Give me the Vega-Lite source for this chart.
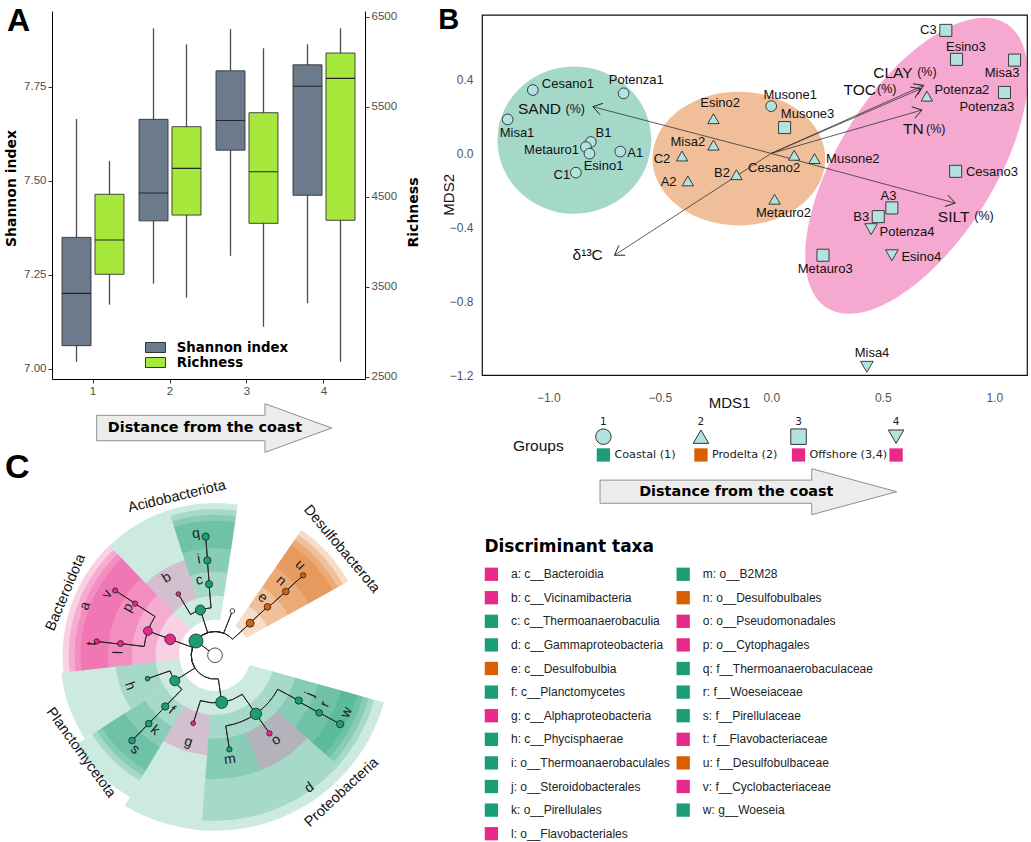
{
"$schema": "https://vega.github.io/schema/vega-lite/v6.json",
"background": "white",
"padding": {"left": 4, "top": 5, "right": 0, "bottom": 0},
"config": {"view": {"stroke": null}, "font": "Liberation Sans", "axis": {"grid": false, "labelFont": "Liberation Sans", "titleFont": "Liberation Sans"}, "legend": {"labelFont": "Liberation Sans", "titleFont": "Liberation Sans"}},
"datasets": {
"shannon": [
{"site":"1","series":"Shannon index","lower":7.019,"q1":7.062,"median":7.201,"q3":7.350,"upper":7.665},
{"site":"2","series":"Shannon index","lower":7.227,"q1":7.394,"median":7.468,"q3":7.664,"upper":7.906},
{"site":"3","series":"Shannon index","lower":7.301,"q1":7.582,"median":7.661,"q3":7.793,"upper":7.904},
{"site":"4","series":"Shannon index","lower":7.175,"q1":7.462,"median":7.752,"q3":7.809,"upper":7.864}
],
"richness": [
{"site":"1","series":"Richness","lower":3300,"q1":3638,"median":4019,"q3":4527,"upper":4897},
{"site":"2","series":"Richness","lower":3378,"q1":4296,"median":4815,"q3":5278,"upper":6193},
{"site":"3","series":"Richness","lower":3056,"q1":4204,"median":4778,"q3":5433,"upper":6149},
{"site":"4","series":"Richness","lower":2667,"q1":4238,"median":5815,"q3":6096,"upper":6371}
],
"samples": [
{"name":"Cesano1","group":"1","x":-1.069,"y":0.343,"lx":-0.912,"ly":0.374},
{"name":"Potenza1","group":"1","x":-0.662,"y":0.325,"lx":-0.605,"ly":0.397},
{"name":"Misa1","group":"1","x":-1.182,"y":0.184,"lx":-1.140,"ly":0.109},
{"name":"B1","group":"1","x":-0.809,"y":0.062,"lx":-0.752,"ly":0.112},
{"name":"Metauro1","group":"1","x":-0.831,"y":0.035,"lx":-0.985,"ly":0.017},
{"name":"Esino1","group":"1","x":-0.815,"y":-0.001,"lx":-0.752,"ly":-0.068},
{"name":"A1","group":"1","x":-0.677,"y":0.010,"lx":-0.610,"ly":0.004},
{"name":"C1","group":"1","x":-0.876,"y":-0.104,"lx":-0.939,"ly":-0.117},
{"name":"Musone1","group":"1","x":0.000,"y":0.256,"lx":0.085,"ly":0.316},
{"name":"Esino2","group":"2","x":-0.259,"y":0.188,"lx":-0.229,"ly":0.271},
{"name":"Misa2","group":"2","x":-0.259,"y":0.045,"lx":-0.374,"ly":0.062},
{"name":"C2","group":"2","x":-0.400,"y":-0.014,"lx":-0.490,"ly":-0.032},
{"name":"A2","group":"2","x":-0.374,"y":-0.149,"lx":-0.460,"ly":-0.153},
{"name":"B2","group":"2","x":-0.156,"y":-0.115,"lx":-0.221,"ly":-0.104},
{"name":"Cesano2","group":"2","x":0.103,"y":-0.010,"lx":0.013,"ly":-0.081},
{"name":"Musone2","group":"2","x":0.194,"y":-0.028,"lx":0.366,"ly":-0.028},
{"name":"Metauro2","group":"2","x":0.015,"y":-0.248,"lx":0.055,"ly":-0.320},
{"name":"Potenza2","group":"2","x":0.698,"y":0.310,"lx":0.855,"ly":0.341},
{"name":"C3","group":"3","x":0.783,"y":0.666,"lx":0.705,"ly":0.666},
{"name":"Esino3","group":"3","x":0.831,"y":0.509,"lx":0.873,"ly":0.575},
{"name":"Misa3","group":"3","x":1.091,"y":0.505,"lx":1.035,"ly":0.433},
{"name":"Potenza3","group":"3","x":1.046,"y":0.330,"lx":0.967,"ly":0.253},
{"name":"Musone3","group":"3","x":0.060,"y":0.140,"lx":0.163,"ly":0.211},
{"name":"Cesano3","group":"3","x":0.827,"y":-0.097,"lx":0.990,"ly":-0.100},
{"name":"A3","group":"3","x":0.541,"y":-0.295,"lx":0.526,"ly":-0.230},
{"name":"B3","group":"3","x":0.480,"y":-0.342,"lx":0.404,"ly":-0.342},
{"name":"Metauro3","group":"3","x":0.232,"y":-0.551,"lx":0.242,"ly":-0.623},
{"name":"Potenza4","group":"4","x":0.448,"y":-0.410,"lx":0.609,"ly":-0.425},
{"name":"Esino4","group":"4","x":0.541,"y":-0.551,"lx":0.673,"ly":-0.558},
{"name":"Misa4","group":"4","x":0.429,"y":-1.155,"lx":0.452,"ly":-1.081}
],
"env": [
{"var":"SAND","ox":0,"oy":0,"ex":-0.800,"ey":0.253},
{"var":"SILT","ox":0,"oy":0,"ex":0.825,"ey":-0.269},
{"var":"d13C","ox":0,"oy":0,"ex":-0.703,"ey":-0.551},
{"var":"CLAY","ox":0,"oy":0,"ex":0.683,"ey":0.368},
{"var":"TOC","ox":0,"oy":0,"ex":0.671,"ey":0.350},
{"var":"TN","ox":0,"oy":0,"ex":0.676,"ey":0.235}
],
"envlab": [
{"t":"SAND","lx":-1.039,"ly":0.238},
{"t":"CLAY","lx":0.546,"ly":0.437},
{"t":"TOC","lx":0.397,"ly":0.341},
{"t":"TN","lx":0.637,"ly":0.134},
{"t":"SILT","lx":0.818,"ly":-0.342},
{"t":"δ¹³C","lx":-0.823,"ly":-0.551}
],
"envpct": [
{"t":"(%)","lx":-0.879,"ly":0.238},
{"t":"(%)","lx":0.698,"ly":0.440},
{"t":"(%)","lx":0.518,"ly":0.347},
{"t":"(%)","lx":0.738,"ly":0.134},
{"t":"(%)","lx":0.954,"ly":-0.339}
],
"groups": [
{"grp":1,"gs":"1","habitat":"Coastal","label":"Coastal (1)"},
{"grp":2,"gs":"2","habitat":"Prodelta","label":"Prodelta (2)"},
{"grp":3,"gs":"3","habitat":"Offshore","label":"Offshore (3,4)"},
{"grp":4,"gs":"4","habitat":"Offshore","label":""}
],
"wedges": [
{"clade":"Bacteroidota","grp":"Offshore","t0":263.5,"t1":316.1,"r0":1.5,"r1":6.4},
{"clade":"a","grp":"Offshore","t0":263.5,"t1":316.1,"r0":2.5,"r1":6.15},
{"clade":"p","grp":"Offshore","t0":289.8,"t1":316.1,"r0":3.5,"r1":5.9},
{"clade":"v","grp":"Offshore","t0":289.8,"t1":316.1,"r0":4.5,"r1":5.65},
{"clade":"l","grp":"Offshore","t0":263.5,"t1":289.8,"r0":3.5,"r1":5.9},
{"clade":"t","grp":"Offshore","t0":263.5,"t1":289.8,"r0":4.5,"r1":5.65},
{"clade":"Acidobacteriota","grp":"Coastal","t0":316.1,"t1":368.6,"r0":1.5,"r1":6.4},
{"clade":"b","grp":"Offshore","t0":316.1,"t1":342.3,"r0":2.5,"r1":4.2},
{"clade":"c","grp":"Coastal","t0":342.3,"t1":368.6,"r0":2.5,"r1":6.15},
{"clade":"i","grp":"Coastal","t0":342.3,"t1":368.6,"r0":3.5,"r1":5.9},
{"clade":"q","grp":"Coastal","t0":342.3,"t1":368.6,"r0":4.5,"r1":5.65},
{"clade":"Desulfobacterota","grp":"Prodelta","t0":34.6,"t1":61.0,"r0":1.5,"r1":6.4},
{"clade":"e","grp":"Prodelta","t0":34.6,"t1":61.0,"r0":2.5,"r1":6.15},
{"clade":"n","grp":"Prodelta","t0":34.6,"t1":61.0,"r0":3.5,"r1":5.9},
{"clade":"u","grp":"Prodelta","t0":34.6,"t1":61.0,"r0":4.5,"r1":5.65},
{"clade":"Proteobacteria","grp":"Coastal","t0":105.6,"t1":211.0,"r0":1.5,"r1":7.37},
{"clade":"d","grp":"Coastal","t0":105.6,"t1":184.5,"r0":2.5,"r1":6.95},
{"clade":"g","grp":"Offshore","t0":184.5,"t1":211.0,"r0":2.5,"r1":4.2},
{"clade":"m","grp":"Coastal","t0":158.2,"t1":184.5,"r0":3.5,"r1":5.2},
{"clade":"o","grp":"Offshore","t0":131.9,"t1":158.2,"r0":3.5,"r1":5.2},
{"clade":"j","grp":"Coastal","t0":105.6,"t1":131.9,"r0":3.5,"r1":6.7},
{"clade":"r","grp":"Coastal","t0":105.6,"t1":131.9,"r0":4.5,"r1":6.45},
{"clade":"w","grp":"Coastal","t0":105.6,"t1":131.9,"r0":5.5,"r1":6.2},
{"clade":"Planctomycetota","grp":"Coastal","t0":211.0,"t1":237.3,"r0":1.5,"r1":6.95},
{"clade":"Planctomycetota","grp":"Coastal","t0":237.3,"t1":263.5,"r0":1.5,"r1":6.5},
{"clade":"f","grp":"Coastal","t0":211.0,"t1":237.3,"r0":2.5,"r1":6.15},
{"clade":"k","grp":"Coastal","t0":211.0,"t1":237.3,"r0":3.5,"r1":5.9},
{"clade":"s","grp":"Coastal","t0":211.0,"t1":237.3,"r0":4.5,"r1":5.65},
{"clade":"h","grp":"Coastal","t0":237.3,"t1":263.5,"r0":2.5,"r1":4.2}
],
"edges": [
{"tp":307,"tc":307,"rp":0,"rc":1},
{"tp":307,"tc":289.6,"rp":1,"rc":2},
{"tp":307,"tc":342.1,"rp":1,"rc":2},
{"tp":307,"tc":381.4,"rp":1,"rc":2},
{"tp":307,"tc":407.6,"rp":1,"rc":2},
{"tp":307,"tc":171.9,"rp":1,"rc":2},
{"tp":307,"tc":237.6,"rp":1,"rc":2},
{"tp":289.6,"tc":289.9,"rp":2,"rc":3},
{"tp":289.9,"tc":302.9,"rp":3,"rc":4},
{"tp":289.9,"tc":277.1,"rp":3,"rc":4},
{"tp":302.9,"tc":303.0,"rp":4,"rc":5},
{"tp":277.1,"tc":276.7,"rp":4,"rc":5},
{"tp":342.1,"tc":329.1,"rp":2,"rc":3},
{"tp":342.1,"tc":355.2,"rp":2,"rc":3},
{"tp":355.2,"tc":355.4,"rp":3,"rc":4},
{"tp":355.4,"tc":355.5,"rp":4,"rc":5},
{"tp":47.6,"tc":47.3,"rp":2,"rc":3},
{"tp":47.3,"tc":48.0,"rp":3,"rc":4},
{"tp":48.0,"tc":47.8,"rp":4,"rc":5},
{"tp":171.9,"tc":197.8,"rp":2,"rc":3},
{"tp":171.9,"tc":145.1,"rp":2,"rc":3},
{"tp":145.1,"tc":171.3,"rp":3,"rc":4},
{"tp":145.1,"tc":145.1,"rp":3,"rc":4},
{"tp":145.1,"tc":118.4,"rp":3,"rc":4},
{"tp":118.4,"tc":118.9,"rp":4,"rc":5},
{"tp":118.9,"tc":118.8,"rp":5,"rc":6},
{"tp":237.6,"tc":250.9,"rp":2,"rc":3},
{"tp":237.6,"tc":224.2,"rp":2,"rc":3},
{"tp":224.2,"tc":224.1,"rp":3,"rc":4},
{"tp":224.1,"tc":224.2,"rp":4,"rc":5}
],
"nodes": [
{"node":"root","grp":"none","x":0,"y":0,"abundance":1.0},
{"node":"Bacteria","grp":"Coastal","x":-0.799,"y":0.602,"abundance":0.907},
{"node":"Bacteroidota","grp":"Offshore","x":-1.884,"y":0.671,"abundance":0.528},
{"node":"Acidobacteriota","grp":"Coastal","x":-0.615,"y":1.903,"abundance":0.463},
{"node":"unassigned","grp":"none","x":0.730,"y":1.862,"abundance":0.102},
{"node":"Desulfobacterota","grp":"Prodelta","x":1.477,"y":1.349,"abundance":0.296},
{"node":"Proteobacteria","grp":"Coastal","x":0.282,"y":-1.980,"abundance":0.667},
{"node":"Planctomycetota","grp":"Coastal","x":-1.689,"y":-1.072,"abundance":0.463}
],
"taxa": [
{"letter":"a","taxon":"a: c__Bacteroidia","grp":"Offshore","x":-2.821,"y":1.021,"abundance":0.352,"lt":290.8,"lr":5.84},
{"letter":"b","taxon":"b: c__Vicinamibacteria","grp":"Offshore","x":-1.541,"y":2.574,"abundance":0.102,"lt":328.1,"lr":3.84},
{"letter":"c","taxon":"c: c__Thermoanaerobaculia","grp":"Coastal","x":-0.251,"y":2.990,"abundance":0.245,"lt":348.2,"lr":3.22},
{"letter":"d","taxon":"d: c__Gammaproteobacteria","grp":"Coastal","x":1.716,"y":-2.461,"abundance":0.593,"lt":144.5,"lr":6.83},
{"letter":"e","taxon":"e: c__Desulfobulbia","grp":"Prodelta","x":2.205,"y":2.035,"abundance":0.208,"lt":39.6,"lr":3.14},
{"letter":"f","taxon":"f: c__Planctomycetes","grp":"Coastal","x":-2.092,"y":-2.151,"abundance":0.245,"lt":218.2,"lr":2.94},
{"letter":"g","taxon":"g: c__Alphaproteobacteria","grp":"Offshore","x":-0.917,"y":-2.856,"abundance":0.102,"lt":197.1,"lr":3.81},
{"letter":"h","taxon":"h: c__Phycisphaerae","grp":"Coastal","x":-2.835,"y":-0.982,"abundance":0.102,"lt":250.2,"lr":3.8},
{"letter":"i","taxon":"i: o__Thermoanaerobaculales","grp":"Coastal","x":-0.321,"y":3.987,"abundance":0.245,"lt":350.5,"lr":4.08},
{"letter":"j","taxon":"j: o__Steroidobacterales","grp":"Coastal","x":3.518,"y":-1.902,"abundance":0.245,"lt":112.3,"lr":4.31},
{"letter":"k","taxon":"k: o__Pirellulales","grp":"Coastal","x":-2.784,"y":-2.873,"abundance":0.208,"lt":218.7,"lr":4.04},
{"letter":"l","taxon":"l: o__Flavobacteriales","grp":"Offshore","x":-3.969,"y":0.494,"abundance":0.167,"lt":271.6,"lr":4.06},
{"letter":"m","taxon":"m: o__B2M28","grp":"Coastal","x":0.605,"y":-3.954,"abundance":0.13,"lt":171.8,"lr":4.42},
{"letter":"n","taxon":"n: o__Desulfobulbales","grp":"Prodelta","x":2.973,"y":2.677,"abundance":0.208,"lt":41.6,"lr":4.18},
{"letter":"o","taxon":"o: o__Pseudomonadales","grp":"Offshore","x":2.288,"y":-3.281,"abundance":0.13,"lt":144.3,"lr":4.4},
{"letter":"p","taxon":"p: o__Cytophagales","grp":"Offshore","x":-3.358,"y":2.173,"abundance":0.13,"lt":298.8,"lr":4.16},
{"letter":"q","taxon":"q: f__Thermoanaerobaculaceae","grp":"Coastal","x":-0.392,"y":4.985,"abundance":0.245,"lt":351.1,"lr":5.17},
{"letter":"r","taxon":"r: f__Woeseiaceae","grp":"Coastal","x":4.378,"y":-2.417,"abundance":0.208,"lt":114.0,"lr":5.06},
{"letter":"s","taxon":"s: f__Pirellulaceae","grp":"Coastal","x":-3.486,"y":-3.585,"abundance":0.208,"lt":220.4,"lr":5.19},
{"letter":"t","taxon":"t: f__Flavobacteriaceae","grp":"Offshore","x":-4.966,"y":0.583,"abundance":0.13,"lt":275.4,"lr":5.2},
{"letter":"u","taxon":"u: f__Desulfobulbaceae","grp":"Prodelta","x":3.704,"y":3.359,"abundance":0.13,"lt":43.3,"lr":5.21},
{"letter":"v","taxon":"v: f__Cyclobacteriaceae","grp":"Offshore","x":-4.193,"y":2.723,"abundance":0.13,"lt":299.5,"lr":5.2},
{"letter":"w","taxon":"w: g__Woeseia","grp":"Coastal","x":5.258,"y":-2.891,"abundance":0.245,"lt":113.5,"lr":6.03}
],
"phyla": [
{"name":"Acidobacteriota","lt":346.5,"lr":6.85},
{"name":"Desulfobacterota","lt":50.0,"lr":6.94},
{"name":"Bacteroidota","lt":292.8,"lr":6.8},
{"name":"Planctomycetota","lt":234.0,"lr":6.97},
{"name":"Proteobacteria","lt":137.3,"lr":7.85}
]
},
"columns": 2,
"spacing": {"row": 113.3, "column": 104},
"bounds": "flush",
"center": {"row": true, "column": false},
"resolve": {"scale": {"color": "independent", "fill": "independent", "shape": "independent", "size": "independent", "angle": "independent", "theta": "independent", "radius": "independent", "xOffset": "independent"}},
"concat": [
{
"width": 313, "height": 368,
"layer": [
{"data": {"name": "shannon"}, "mark": {"type": "rule", "color": "#4d4d4d", "strokeWidth": 1.3},
"encoding": {
"x": {"field": "site", "type": "ordinal", "scale": {"paddingInner": 0.195, "paddingOuter": 0.13}, "axis": {"title": null, "labelAngle": 0, "labelColor": "#4d4d4d", "labelFontSize": 11.5, "tickColor": "#333", "tickSize": 4, "domainColor": "#000", "labelPadding": 2}},
"xOffset": {"field": "series", "type": "nominal", "scale": {"domain": ["Shannon index", "Richness"], "paddingInner": 0.121}},
"y": {"field": "lower", "type": "quantitative", "title": "Shannon index", "scale": {"domain": [6.9734, 7.9521], "zero": false, "nice": false},
"axis": {"orient": "left", "values": [7, 7.25, 7.5, 7.75], "format": ".2f", "title": "Shannon index", "titleFont": "DejaVu Sans", "titleFontSize": 14, "titleFontWeight": "bold", "titleColor": "#000", "titleX": -41, "titleY": 177, "titleBaseline": "middle", "titleAlign": "center", "titleAngle": 270, "labelColor": "#4d4d4d", "labelFontSize": 11.5, "tickColor": "#333", "tickSize": 4, "domainColor": "#000", "labelPadding": 2, "labelFlush": false}},
"y2": {"field": "upper"}}},
{"data": {"name": "shannon"}, "mark": {"type": "bar", "stroke": "#333", "strokeWidth": 0.9, "opacity": 1},
"encoding": {
"x": {"field": "site", "type": "ordinal"},
"xOffset": {"field": "series", "type": "nominal"},
"y": {"field": "q1", "type": "quantitative", "scale": {"domain": [6.9734, 7.9521], "zero": false, "nice": false}, "axis": null}, "y2": {"field": "q3"},
"color": {"field": "series", "type": "nominal", "scale": {"domain": ["Shannon index", "Richness"], "range": ["#6c7b8b", "#a6e83c"]},
"legend": {"orient": "none", "legendX": 96, "legendY": 329, "title": null, "direction": "vertical", "symbolType": "M-1.43,-0.714L1.43,-0.714L1.43,0.714L-1.43,0.714Z", "symbolSize": 196, "symbolStrokeColor": "#333", "symbolStrokeWidth": 1, "symbolOpacity": 1, "labelFont": "DejaVu Sans", "labelFontWeight": "bold", "labelFontSize": 13.3, "labelColor": "#000", "labelOffset": 13.7, "rowPadding": 0, "padding": 0}}}},
{"data": {"name": "shannon"}, "mark": {"type": "bar", "fill": "transparent", "stroke": "#262626", "strokeWidth": 1.1, "opacity": 1},
"encoding": {
"x": {"field": "site", "type": "ordinal"},
"xOffset": {"field": "series", "type": "nominal"},
"y": {"field": "median", "type": "quantitative", "scale": {"domain": [6.9734, 7.9521], "zero": false, "nice": false}, "axis": null}, "y2": {"field": "median"}}},
{"data": {"name": "richness"}, "mark": {"type": "rule", "color": "#4d4d4d", "strokeWidth": 1.3},
"encoding": {
"x": {"field": "site", "type": "ordinal"},
"xOffset": {"field": "series", "type": "nominal"},
"y": {"field": "lower", "type": "quantitative", "title": "Richness", "scale": {"domain": [2474.4, 6563.3], "zero": false, "nice": false},
"axis": {"orient": "right", "values": [2500, 3500, 4500, 5500, 6500], "format": "d", "title": "Richness", "titleFont": "DejaVu Sans", "titleFontSize": 14, "titleFontWeight": "bold", "titleColor": "#000", "titleX": 48, "titleY": 201, "titleBaseline": "middle", "titleAlign": "center", "titleAngle": 270, "labelColor": "#4d4d4d", "labelFontSize": 11.5, "tickColor": "#333", "tickSize": 4, "domainColor": "#000", "labelPadding": 2, "labelFlush": false}},
"y2": {"field": "upper"}}},
{"data": {"name": "richness"}, "mark": {"type": "bar", "stroke": "#333", "strokeWidth": 0.9, "opacity": 1},
"encoding": {
"x": {"field": "site", "type": "ordinal"},
"xOffset": {"field": "series", "type": "nominal"},
"y": {"field": "q1", "type": "quantitative", "scale": {"domain": [2474.4, 6563.3], "zero": false, "nice": false}, "axis": null}, "y2": {"field": "q3"},
"color": {"field": "series", "type": "nominal"}}},
{"data": {"name": "richness"}, "mark": {"type": "bar", "fill": "transparent", "stroke": "#262626", "strokeWidth": 1.1, "opacity": 1},
"encoding": {
"x": {"field": "site", "type": "ordinal"},
"xOffset": {"field": "series", "type": "nominal"},
"y": {"field": "median", "type": "quantitative", "scale": {"domain": [2474.4, 6563.3], "zero": false, "nice": false}, "axis": null}, "y2": {"field": "median"}}},
{"data": {"values": [{}]},
"mark": {"type": "point", "shape": "M-1,-0.108L0.432,-0.108L0.432,-0.207L1,0L0.432,0.207L0.432,0.108L-1,0.108Z", "size": 55225, "filled": true, "fill": "#ececec", "stroke": "#8f8f8f", "strokeWidth": 1, "opacity": 1, "xOffset": 5.7},
"encoding": {"y": {"datum": 6.843, "type": "quantitative", "scale": {"domain": [6.9734, 7.9521], "zero": false, "nice": false}, "axis": null}}},
{"data": {"values": [{}]},
"mark": {"type": "text", "text": "Distance from the coast", "font": "DejaVu Sans", "fontWeight": "bold", "fontSize": 14.4, "color": "#000", "xOffset": -3.5},
"encoding": {"y": {"datum": 6.843, "type": "quantitative", "scale": {"domain": [6.9734, 7.9521], "zero": false, "nice": false}, "axis": null}}},
{"data": {"values": [{}]},
"mark": {"type": "text", "text": "A", "font": "Liberation Sans", "fontWeight": "bold", "fontSize": 32, "color": "#000", "align": "left", "baseline": "alphabetic", "dx": -86},
"encoding": {"x": {"datum": "1", "type": "ordinal"}, "y": {"datum": 7.8989, "type": "quantitative", "scale": {"domain": [6.9734, 7.9521], "zero": false, "nice": false}, "axis": null}}}
],
"resolve": {"scale": {"y": "independent"}}
},
{
"width": 545, "height": 360.3,
"view": {"stroke": "#111", "strokeWidth": 1.2},
"layer": [
{"data": {"values": [{"habitat": "Coastal", "cx": -0.883, "cy": 0.072}]},
"mark": {"type": "point", "shape": "M1,0C1,0.529 0.552,0.958 0,0.958C-0.552,0.958 -1,0.529 -1,0C-1,-0.529 -0.552,-0.958 0,-0.958C0.552,-0.958 1,-0.529 1,0Z", "size": 23650, "filled": true, "fillOpacity": 0.4, "strokeWidth": 0, "opacity": 1},
"encoding": {"x": {"field": "cx", "type": "quantitative", "scale": {"domain": [-1.297, 1.147], "nice": false, "zero": false}, "axis": null}, "y": {"field": "cy", "type": "quantitative", "scale": {"domain": [-1.2, 0.75], "nice": false, "zero": false}, "axis": null},
"fill": {"field": "habitat", "type": "nominal", "scale": {"domain": ["Coastal", "Prodelta", "Offshore"], "range": ["#1b9e77", "#d95f02", "#e7298a"]}, "legend": null}}},
{"data": {"values": [{"habitat": "Prodelta", "cx": -0.145, "cy": -0.028}]},
"mark": {"type": "point", "shape": "M1,0C1,0.4275 0.552,0.774 0,0.774C-0.552,0.774 -1,0.4275 -1,0C-1,-0.4275 -0.552,-0.774 0,-0.774C0.552,-0.774 1,-0.4275 1,0Z", "size": 29825, "filled": true, "fillOpacity": 0.4, "strokeWidth": 0, "opacity": 1},
"encoding": {"x": {"field": "cx", "type": "quantitative", "scale": {"domain": [-1.297, 1.147], "nice": false, "zero": false}, "axis": null}, "y": {"field": "cy", "type": "quantitative", "scale": {"domain": [-1.2, 0.75], "nice": false, "zero": false}, "axis": null},
"fill": {"field": "habitat", "type": "nominal", "legend": null}}},
{"data": {"values": [{"habitat": "Offshore", "cx": 0.652, "cy": -0.067}]},
"mark": {"type": "point", "shape": "M1,0C1,0.2563 0.552,0.464 0,0.464C-0.552,0.464 -1,0.2563 -1,0C-1,-0.2563 -0.552,-0.464 0,-0.464C0.552,-0.464 1,-0.2563 1,0Z", "size": 112896, "angle": 302.3, "filled": true, "fillOpacity": 0.4, "strokeWidth": 0, "opacity": 1},
"encoding": {"x": {"field": "cx", "type": "quantitative", "scale": {"domain": [-1.297, 1.147], "nice": false, "zero": false}, "axis": null}, "y": {"field": "cy", "type": "quantitative", "scale": {"domain": [-1.2, 0.75], "nice": false, "zero": false}, "axis": null},
"fill": {"field": "habitat", "type": "nominal", "legend": null}}},
{"data": {"name": "env"},
"mark": {"type": "rule", "color": "#333", "strokeWidth": 0.8},
"encoding": {"x": {"field": "ox", "type": "quantitative", "scale": {"domain": [-1.297, 1.147], "nice": false, "zero": false}, "axis": null}, "y": {"field": "oy", "type": "quantitative", "scale": {"domain": [-1.2, 0.75], "nice": false, "zero": false}, "axis": null}, "x2": {"field": "ex"}, "y2": {"field": "ey"}}},
{"data": {"name": "env"}, "transform": [{"filter": "datum.var === 'SAND'"}],
"mark": {"type": "point", "shape": "M-1,-0.65L0,0L-1,0.65", "size": 324, "filled": false, "stroke": "#222", "strokeWidth": 0.9, "opacity": 1, "angle": 194.7},
"encoding": {"x": {"field": "ex", "type": "quantitative", "scale": {"domain": [-1.297, 1.147], "nice": false, "zero": false}, "axis": null}, "y": {"field": "ey", "type": "quantitative", "scale": {"domain": [-1.2, 0.75], "nice": false, "zero": false}, "axis": null}}},
{"data": {"name": "env"}, "transform": [{"filter": "datum.var === 'SILT'"}],
"mark": {"type": "point", "shape": "M-1,-0.65L0,0L-1,0.65", "size": 324, "filled": false, "stroke": "#222", "strokeWidth": 0.9, "opacity": 1, "angle": 15.1},
"encoding": {"x": {"field": "ex", "type": "quantitative", "scale": {"domain": [-1.297, 1.147], "nice": false, "zero": false}, "axis": null}, "y": {"field": "ey", "type": "quantitative", "scale": {"domain": [-1.2, 0.75], "nice": false, "zero": false}, "axis": null}}},
{"data": {"name": "env"}, "transform": [{"filter": "datum.var === 'd13C'"}],
"mark": {"type": "point", "shape": "M-1,-0.65L0,0L-1,0.65", "size": 324, "filled": false, "stroke": "#222", "strokeWidth": 0.9, "opacity": 1, "angle": 147.0},
"encoding": {"x": {"field": "ex", "type": "quantitative", "scale": {"domain": [-1.297, 1.147], "nice": false, "zero": false}, "axis": null}, "y": {"field": "ey", "type": "quantitative", "scale": {"domain": [-1.2, 0.75], "nice": false, "zero": false}, "axis": null}}},
{"data": {"name": "env"}, "transform": [{"filter": "datum.var === 'CLAY'"}],
"mark": {"type": "point", "shape": "M-1,-0.65L0,0L-1,0.65", "size": 324, "filled": false, "stroke": "#222", "strokeWidth": 0.9, "opacity": 1, "angle": 335.9},
"encoding": {"x": {"field": "ex", "type": "quantitative", "scale": {"domain": [-1.297, 1.147], "nice": false, "zero": false}, "axis": null}, "y": {"field": "ey", "type": "quantitative", "scale": {"domain": [-1.2, 0.75], "nice": false, "zero": false}, "axis": null}}},
{"data": {"name": "env"}, "transform": [{"filter": "datum.var === 'TOC'"}],
"mark": {"type": "point", "shape": "M-1,-0.65L0,0L-1,0.65", "size": 324, "filled": false, "stroke": "#222", "strokeWidth": 0.9, "opacity": 1, "angle": 336.6},
"encoding": {"x": {"field": "ex", "type": "quantitative", "scale": {"domain": [-1.297, 1.147], "nice": false, "zero": false}, "axis": null}, "y": {"field": "ey", "type": "quantitative", "scale": {"domain": [-1.2, 0.75], "nice": false, "zero": false}, "axis": null}}},
{"data": {"name": "env"}, "transform": [{"filter": "datum.var === 'TN'"}],
"mark": {"type": "point", "shape": "M-1,-0.65L0,0L-1,0.65", "size": 324, "filled": false, "stroke": "#222", "strokeWidth": 0.9, "opacity": 1, "angle": 343.9},
"encoding": {"x": {"field": "ex", "type": "quantitative", "scale": {"domain": [-1.297, 1.147], "nice": false, "zero": false}, "axis": null}, "y": {"field": "ey", "type": "quantitative", "scale": {"domain": [-1.2, 0.75], "nice": false, "zero": false}, "axis": null}}},
{"data": {"name": "envlab"},
"mark": {"type": "text", "fontSize": 15.5, "font": "Liberation Sans", "color": "#111"},
"encoding": {"x": {"field": "lx", "type": "quantitative", "scale": {"domain": [-1.297, 1.147], "nice": false, "zero": false}, "axis": null}, "y": {"field": "ly", "type": "quantitative", "scale": {"domain": [-1.2, 0.75], "nice": false, "zero": false}, "axis": null}, "text": {"field": "t"}}},
{"data": {"name": "envpct"},
"mark": {"type": "text", "fontSize": 12.5, "font": "Liberation Sans", "color": "#111"},
"encoding": {"x": {"field": "lx", "type": "quantitative", "scale": {"domain": [-1.297, 1.147], "nice": false, "zero": false}, "axis": null}, "y": {"field": "ly", "type": "quantitative", "scale": {"domain": [-1.2, 0.75], "nice": false, "zero": false}, "axis": null}, "text": {"field": "t"}}},
{"data": {"name": "samples"},
"mark": {"type": "point", "filled": true, "fill": "#b2e3e0", "stroke": "#2b2b2b", "strokeWidth": 0.9, "opacity": 1},
"encoding": {
"x": {"field": "x", "type": "quantitative", "scale": {"domain": [-1.297, 1.147], "nice": false, "zero": false}, "axis": {"values": [-1, -0.5, 0, 0.5, 1], "format": ".1f", "ticks": false, "domain": false, "labelPadding": 17, "labelColor": "#555", "labelFontSize": 12, "labelFlush": false, "title": "MDS1", "titleFontSize": 15, "titleFontWeight": "normal", "titleColor": "#111", "titleX": 247, "titleY": 27, "titleBaseline": "middle", "titleAlign": "center"}},
"y": {"field": "y", "type": "quantitative", "scale": {"domain": [-1.2, 0.75], "nice": false, "zero": false}, "axis": {"orient": "left", "values": [-1.2, -0.8, -0.4, 0, 0.4], "format": ".1f", "ticks": false, "domain": false, "labelPadding": 9, "labelColor": "#555", "labelFontSize": 12, "labelFlush": false, "title": "MDS2", "titleFontSize": 15, "titleFontWeight": "normal", "titleColor": "#111", "titleX": -34, "titleY": 179.5, "titleBaseline": "middle", "titleAlign": "center", "titleAngle": 270}},
"shape": {"field": "group", "type": "nominal", "scale": {"domain": ["1", "2", "3", "4"], "range": ["circle", "triangle-up", "square", "triangle-down"]}, "legend": null},
"size": {"field": "group", "type": "ordinal", "scale": {"domain": ["1", "2", "3", "4"], "range": [115, 160, 100, 160]}, "legend": null}}},
{"data": {"name": "samples"},
"mark": {"type": "text", "fontSize": 13, "font": "Liberation Sans", "color": "#111"},
"encoding": {"x": {"field": "lx", "type": "quantitative", "scale": {"domain": [-1.297, 1.147], "nice": false, "zero": false}, "axis": null}, "y": {"field": "ly", "type": "quantitative", "scale": {"domain": [-1.2, 0.75], "nice": false, "zero": false}, "axis": null}, "text": {"field": "name"}}},
{"data": {"values": [{}]},
"mark": {"type": "text", "text": "B", "font": "Liberation Sans", "fontWeight": "bold", "fontSize": 29, "color": "#000", "align": "left", "baseline": "alphabetic"},
"encoding": {"x": {"datum": -1.493, "type": "quantitative", "scale": {"domain": [-1.297, 1.147], "nice": false, "zero": false}, "axis": null}, "y": {"datum": 0.6718, "type": "quantitative", "scale": {"domain": [-1.2, 0.75], "nice": false, "zero": false}, "axis": null}}},
{"data": {"name": "groups"},
"mark": {"type": "point", "filled": true, "fill": "#b2e3e0", "stroke": "#333", "strokeWidth": 1, "opacity": 1, "size": 240},
"encoding": {"x": {"field": "grp", "type": "quantitative", "scale": {"domain": [-0.2445, 5.342], "nice": false, "zero": false}, "axis": null}, "y": {"datum": -1.533, "type": "quantitative", "scale": {"domain": [-1.2, 0.75], "nice": false, "zero": false}, "axis": null},
"shape": {"field": "gs", "type": "nominal", "legend": null}}},
{"data": {"name": "groups"},
"mark": {"type": "text", "font": "DejaVu Sans", "fontSize": 10.5, "color": "#222"},
"encoding": {"x": {"field": "grp", "type": "quantitative", "scale": {"domain": [-0.2445, 5.342], "nice": false, "zero": false}, "axis": null}, "y": {"datum": -1.4536, "type": "quantitative", "scale": {"domain": [-1.2, 0.75], "nice": false, "zero": false}, "axis": null}, "text": {"field": "gs"}}},
{"data": {"name": "groups"},
"mark": {"type": "point", "shape": "square", "filled": true, "size": 177, "opacity": 1, "strokeWidth": 0},
"encoding": {"x": {"field": "grp", "type": "quantitative", "scale": {"domain": [-0.2445, 5.342], "nice": false, "zero": false}, "axis": null}, "y": {"datum": -1.632, "type": "quantitative", "scale": {"domain": [-1.2, 0.75], "nice": false, "zero": false}, "axis": null},
"fill": {"field": "habitat", "type": "nominal", "legend": null}}},
{"data": {"name": "groups"},
"mark": {"type": "text", "align": "left", "dx": 11, "font": "DejaVu Sans", "fontSize": 11.2, "color": "#222"},
"encoding": {"x": {"field": "grp", "type": "quantitative", "scale": {"domain": [-0.2445, 5.342], "nice": false, "zero": false}, "axis": null}, "y": {"datum": -1.632, "type": "quantitative", "scale": {"domain": [-1.2, 0.75], "nice": false, "zero": false}, "axis": null}, "text": {"field": "label"}}},
{"data": {"values": [{}]},
"mark": {"type": "text", "text": "Groups", "fontSize": 15.5, "font": "Liberation Sans", "color": "#111"},
"encoding": {"x": {"datum": 0.3326, "type": "quantitative", "scale": {"domain": [-0.2445, 5.342], "nice": false, "zero": false}, "axis": null}, "y": {"datum": -1.5834, "type": "quantitative", "scale": {"domain": [-1.2, 0.75], "nice": false, "zero": false}, "axis": null}}},
{"data": {"values": [{}]},
"mark": {"type": "point", "shape": "M-1,-0.078L0.427,-0.078L0.427,-0.155L1,0L0.427,0.155L0.427,0.078L-1,0.078Z", "size": 88031, "filled": true, "fill": "#ececec", "stroke": "#8f8f8f", "strokeWidth": 1, "opacity": 1},
"encoding": {"x": {"datum": 2.486, "type": "quantitative", "scale": {"domain": [-0.2445, 5.342], "nice": false, "zero": false}, "axis": null}, "y": {"datum": -1.8308, "type": "quantitative", "scale": {"domain": [-1.2, 0.75], "nice": false, "zero": false}, "axis": null}}},
{"data": {"values": [{}]},
"mark": {"type": "text", "text": "Distance from the coast", "font": "DejaVu Sans", "fontWeight": "bold", "fontSize": 14.4, "color": "#000"},
"encoding": {"x": {"datum": 2.362, "type": "quantitative", "scale": {"domain": [-0.2445, 5.342], "nice": false, "zero": false}, "axis": null}, "y": {"datum": -1.832, "type": "quantitative", "scale": {"domain": [-1.2, 0.75], "nice": false, "zero": false}, "axis": null}}}
],
"resolve": {"scale": {"x": "independent", "y": "independent"}}
},
{
"width": 326, "height": 326,
"layer": [
{"data": {"name": "wedges"},
"mark": {"type": "arc", "fillOpacity": 0.22, "strokeWidth": 0, "opacity": 1},
"encoding": {
"theta": {"field": "t0", "type": "quantitative", "scale": {"domain": [0, 360]}, "stack": null},
"theta2": {"field": "t1"},
"radius": {"field": "r0", "type": "quantitative", "scale": {"type": "linear", "domain": [0, 10], "range": [0, 238], "zero": true}},
"radius2": {"field": "r1"},
"fill": {"field": "grp", "type": "nominal", "scale": {"domain": ["Coastal", "Prodelta", "Offshore", "none"], "range": ["#1b9e77", "#d95f02", "#e7298a", "#ffffff"]}, "legend": null}}},
{"data": {"name": "edges"},
"mark": {"type": "arc", "filled": false, "stroke": "#222", "strokeWidth": 0.9},
"encoding": {
"theta": {"field": "tp", "type": "quantitative", "stack": null},
"theta2": {"field": "tc"},
"radius": {"field": "rp", "type": "quantitative"},
"radius2": {"field": "rp"}}},
{"data": {"name": "edges"},
"mark": {"type": "arc", "filled": false, "stroke": "#222", "strokeWidth": 0.9},
"encoding": {
"theta": {"field": "tc", "type": "quantitative", "stack": null},
"theta2": {"field": "tc"},
"radius": {"field": "rp", "type": "quantitative"},
"radius2": {"field": "rc"}}},
{"data": {"name": "nodes"},
"mark": {"type": "point", "shape": "circle", "filled": true, "stroke": "#222", "strokeWidth": 0.8, "opacity": 1},
"encoding": {
"x": {"field": "x", "type": "quantitative", "scale": {"domain": [-6.849, 6.849], "nice": false, "zero": false}, "axis": null},
"y": {"field": "y", "type": "quantitative", "scale": {"domain": [-6.849, 6.849], "nice": false, "zero": false}, "axis": null},
"size": {"field": "abundance", "type": "quantitative", "scale": {"type": "linear", "domain": [0, 1], "range": [0, 216]}, "legend": null},
"fill": {"field": "grp", "type": "nominal", "legend": null}}},
{"data": {"name": "taxa"},
"mark": {"type": "point", "shape": "circle", "filled": true, "stroke": "#222", "strokeWidth": 0.8, "opacity": 1},
"encoding": {
"x": {"field": "x", "type": "quantitative", "axis": null},
"y": {"field": "y", "type": "quantitative", "axis": null},
"size": {"field": "abundance", "type": "quantitative", "legend": null},
"color": {"field": "taxon", "type": "nominal",
"scale": {"domain": ["a: c__Bacteroidia", "b: c__Vicinamibacteria", "c: c__Thermoanaerobaculia", "d: c__Gammaproteobacteria", "e: c__Desulfobulbia", "f: c__Planctomycetes", "g: c__Alphaproteobacteria", "h: c__Phycisphaerae", "i: o__Thermoanaerobaculales", "j: o__Steroidobacterales", "k: o__Pirellulales", "l: o__Flavobacteriales", "m: o__B2M28", "n: o__Desulfobulbales", "o: o__Pseudomonadales", "p: o__Cytophagales", "q: f__Thermoanaerobaculaceae", "r: f__Woeseiaceae", "s: f__Pirellulaceae", "t: f__Flavobacteriaceae", "u: f__Desulfobulbaceae", "v: f__Cyclobacteriaceae", "w: g__Woeseia"],
"range": ["#e7298a", "#e7298a", "#1b9e77", "#1b9e77", "#d95f02", "#1b9e77", "#e7298a", "#1b9e77", "#1b9e77", "#1b9e77", "#1b9e77", "#e7298a", "#1b9e77", "#d95f02", "#e7298a", "#e7298a", "#1b9e77", "#1b9e77", "#1b9e77", "#e7298a", "#d95f02", "#e7298a", "#1b9e77"]},
"legend": {"orient": "none", "legendX": 432.4, "legendY": 46.2, "direction": "vertical", "columns": 2, "title": "Discriminant taxa", "titleFont": "DejaVu Sans", "titleFontSize": 17, "titleFontWeight": "bold", "titleColor": "#000", "titlePadding": 11.6, "symbolType": "square", "symbolSize": 177, "symbolStrokeWidth": 0, "symbolOpacity": 1, "labelFont": "Liberation Sans", "labelFontSize": 12, "labelColor": "#222", "labelOffset": 12.6, "labelLimit": 400, "rowPadding": 9.6, "columnPadding": 5.8, "padding": 0, "symbolOffset": 0}}}},
{"data": {"name": "taxa"},
"mark": {"type": "text", "fontSize": 14, "font": "Liberation Sans", "color": "#1a1a1a", "align": "center", "baseline": "middle"},
"encoding": {
"theta": {"field": "lt", "type": "quantitative", "stack": null},
"radius": {"field": "lr", "type": "quantitative"},
"angle": {"field": "lt", "type": "quantitative", "scale": {"type": "linear", "domain": [-90, 90, 90.001, 270, 270.001, 450], "range": [-90, 90, -90, 90, -90, 90], "zero": false, "nice": false}},
"text": {"field": "letter"}}},
{"data": {"name": "phyla"},
"mark": {"type": "text", "fontSize": 14.5, "font": "Liberation Sans", "color": "#111", "align": "center", "baseline": "middle"},
"encoding": {
"theta": {"field": "lt", "type": "quantitative", "stack": null},
"radius": {"field": "lr", "type": "quantitative"},
"angle": {"field": "lt", "type": "quantitative"},
"text": {"field": "name"}}},
{"data": {"values": [{}]},
"mark": {"type": "text", "text": "C", "font": "Liberation Sans", "fontWeight": "bold", "fontSize": 34, "color": "#000", "align": "left", "baseline": "alphabetic"},
"encoding": {"x": {"datum": -8.82, "type": "quantitative", "axis": null}, "y": {"datum": 7.437, "type": "quantitative", "axis": null}}}
]
}
]
}
